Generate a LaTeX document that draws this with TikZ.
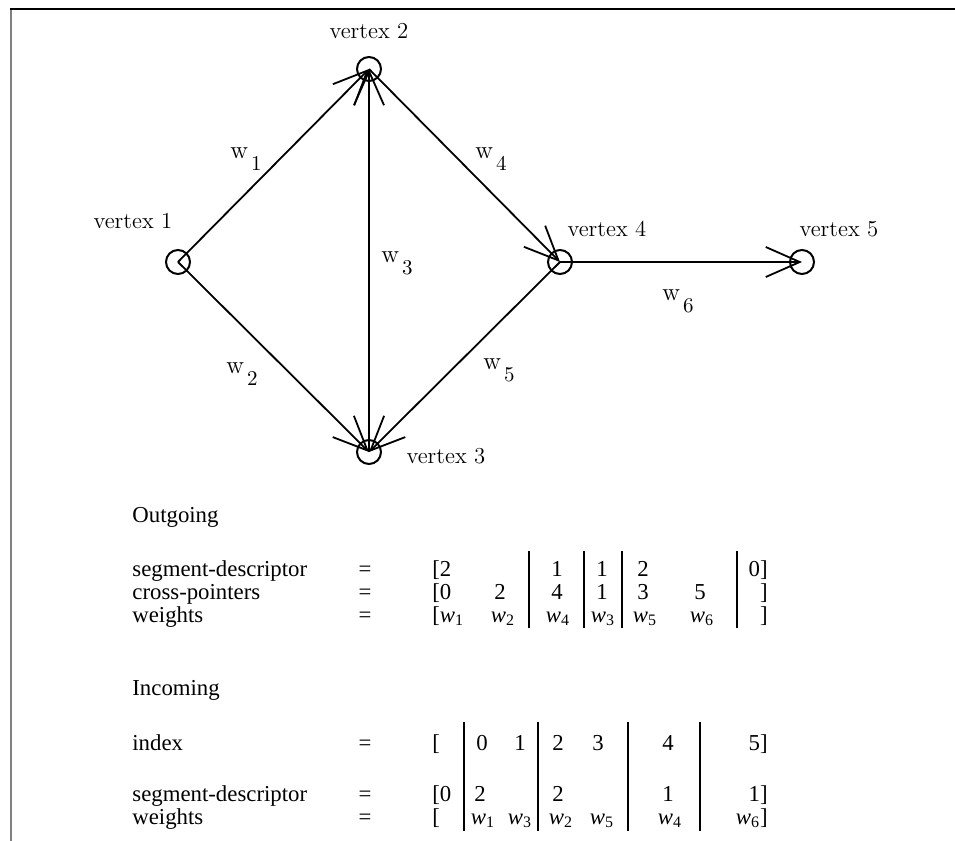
\documentclass[tikz,border=0pt]{standalone}
\usepackage{fontspec}
\newfontfamily\tabfont{Liberation Serif}
\usetikzlibrary{arrows.meta}
\tikzstyle{node:vertex}=[circle,draw,line width=1pt,minimum size=12pt,inner sep=0pt]
\tikzstyle{node:vertexlabel}=[inner sep=0pt,anchor=base,font=\fontsize{11.4}{13}\selectfont]
\tikzstyle{node:weightlabel}=[inner sep=0pt,font=\fontsize{12.5}{14}\selectfont]
\tikzstyle{draw:edge}=[-{Straight Barb[length=17pt,width=15pt]}, line width=0.9pt]
\tikzstyle{node:text}=[inner sep=0pt,anchor=base west,font=\tabfont\fontsize{11.4}{13}\selectfont]
\tikzstyle{node:cell}=[inner sep=0pt,anchor=base,font=\tabfont\fontsize{11.4}{13}\selectfont]
\tikzstyle{node:cellend}=[inner sep=0pt,anchor=base east,font=\tabfont\fontsize{11.4}{13}\selectfont]
\tikzstyle{draw:bar}=[line width=0.6pt]
\newcommand{\edgew}[1]{w\hspace{1.5pt}\raisebox{-6pt}{\fontsize{10.5}{12}\selectfont #1}}
\newcommand{\itw}[1]{\textit{w}\textsubscript{#1}}

\begin{document}
\begin{tikzpicture}[x=0.5pt, y=-0.5pt]
        \useasboundingbox (0,0) rectangle (955,841);

        % Frame
        \draw[gray, line width=1.1pt] (11,9) -- (11,841);
        \draw[line width=1pt] (10,9) -- (955,9);

        % Vertices
        \node[node:vertex] (v1) at (178,262) {};
        \node[node:vertex] (v2) at (369,69) {};
        \node[node:vertex] (v3) at (369,452) {};
        \node[node:vertex] (v4) at (560,262) {};
        \node[node:vertex] (v5) at (802,262) {};

        \node[node:vertexlabel] (l1) at (133,228) {vertex 1};
        \node[node:vertexlabel] (l2) at (369,38) {vertex 2};
        \node[node:vertexlabel] (l3) at (446,463) {vertex 3};
        \node[node:vertexlabel] (l4) at (607,236) {vertex 4};
        \node[node:vertexlabel] (l5) at (839,236) {vertex 5};

        % Edges
        \draw[draw:edge] (v1.center) -- (v2.center);
        \draw[draw:edge] (v1.center) -- (v3.center);
        \draw[draw:edge] (v3.center) -- (v2.center);
        \draw[draw:edge] (v2.center) -- (v4.center);
        \draw[draw:edge] (v4.center) -- (v3.center);
        \draw[draw:edge] (v4.center) -- (v5.center);

        % Weights
        \node[node:weightlabel] (w1) at (246,159) {\edgew{1}};
        \node[node:weightlabel] (w2) at (242,374) {\edgew{2}};
        \node[node:weightlabel] (w3) at (397,263) {\edgew{3}};
        \node[node:weightlabel] (w4) at (491,159) {\edgew{4}};
        \node[node:weightlabel] (w5) at (499,370) {\edgew{5}};
        \node[node:weightlabel] (w6) at (678,301) {\edgew{6}};

        % Outgoing
        \node[node:text] (out) at (132,522) {Outgoing};
        \node[node:text] (oseg) at (132,576) {segment-descriptor};
        \node[node:text] (ocross) at (132,599) {cross-pointers};
        \node[node:text] (owgt) at (132,622) {weights};
        \node[node:cell] (oeq1) at (365,576) {=};
        \node[node:cell] (oeq2) at (365,599) {=};
        \node[node:cell] (oeq3) at (365,622) {=};

        \node[node:text] (os1) at (432,576) {[2};
        \node[node:cell] (os3) at (557,576) {1};
        \node[node:cell] (os4) at (602,576) {1};
        \node[node:cell] (os5) at (643,576) {2};
        \node[node:cellend] (os7) at (768,576) {0]};

        \node[node:text] (oc1) at (432,599) {[0};
        \node[node:cell] (oc2) at (500,599) {2};
        \node[node:cell] (oc3) at (557,599) {4};
        \node[node:cell] (oc4) at (602,599) {1};
        \node[node:cell] (oc5) at (643,599) {3};
        \node[node:cell] (oc6) at (700,599) {5};
        \node[node:cellend] (oc7) at (768,599) {]};

        \node[node:text] (ow1) at (432,622) {[\itw{1}};
        \node[node:cell] (ow2) at (503,622) {\itw{2}};
        \node[node:cell] (ow3) at (558,622) {\itw{4}};
        \node[node:cell] (ow4) at (603,622) {\itw{3}};
        \node[node:cell] (ow5) at (645,622) {\itw{5}};
        \node[node:cell] (ow6) at (702,622) {\itw{6}};
        \node[node:cellend] (ow7) at (768,622) {]};

        \draw[draw:bar] (529,551) -- (529,628);
        \draw[draw:bar] (584,551) -- (584,628);
        \draw[draw:bar] (622,551) -- (622,628);
        \draw[draw:bar] (737,551) -- (737,628);

        % Incoming
        \node[node:text] (in) at (132,695) {Incoming};
        \node[node:text] (iidx) at (132,750) {index};
        \node[node:text] (iseg) at (132,801) {segment-descriptor};
        \node[node:text] (iwgt) at (132,824) {weights};
        \node[node:cell] (ieq1) at (365,750) {=};
        \node[node:cell] (ieq2) at (365,801) {=};
        \node[node:cell] (ieq3) at (365,824) {=};

        \node[node:text] (ii1) at (432,750) {[};
        \node[node:cell] (ii2) at (482,750) {0};
        \node[node:cell] (ii3) at (520,750) {1};
        \node[node:cell] (ii4) at (558,750) {2};
        \node[node:cell] (ii5) at (598,750) {3};
        \node[node:cell] (ii6) at (668,750) {4};
        \node[node:cellend] (ii7) at (768,750) {5]};

        \node[node:text] (is1) at (432,801) {[0};
        \node[node:cell] (is2) at (480,801) {2};
        \node[node:cell] (is4) at (558,801) {2};
        \node[node:cell] (is6) at (668,801) {1};
        \node[node:cellend] (is7) at (768,801) {1]};

        \node[node:text] (iw1) at (432,824) {[};
        \node[node:cell] (iw2) at (483,824) {\itw{1}};
        \node[node:cell] (iw3) at (520,824) {\itw{3}};
        \node[node:cell] (iw4) at (561,824) {\itw{2}};
        \node[node:cell] (iw5) at (602,824) {\itw{5}};
        \node[node:cell] (iw6) at (670,824) {\itw{4}};
        \node[node:cellend] (iw7) at (768,824) {\itw{6}]};

        \draw[draw:bar] (464,722) -- (464,831);
        \draw[draw:bar] (538,722) -- (538,831);
        \draw[draw:bar] (628,722) -- (628,831);
        \draw[draw:bar] (700,722) -- (700,831);

    \end{tikzpicture}
\end{document}
